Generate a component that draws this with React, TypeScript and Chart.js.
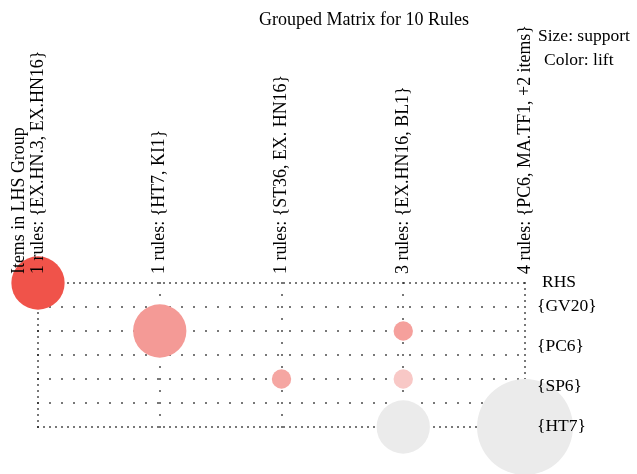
import React, { useEffect, useRef } from "react";
import { Chart, registerables } from "chart.js";

Chart.register(...registerables);

const titleText = "Grouped Matrix for 10 Rules";
const lhsTitle = "Items in LHS Group";
const rhsTitle = "RHS";
const legendSize = "Size: support";
const legendColor = "Color: lift";

const lhsGroups = [
  "1 rules: {EX.HN.3, EX.HN16}",
  "1 rules: {HT7, KI1}",
  "1 rules: {ST36, EX. HN16}",
  "3 rules: {EX.HN16, BL1}",
  "4 rules: {PC6, MA.TF1, +2 items}",
];
const rhsItems = ["{GV20}", "{PC6}", "{SP6}", "{HT7}"];

// one entry per bubble
const bubbleLhs = [0, 1, 2, 3, 3, 3, 4];
const bubbleRhs = [0, 1, 2, 1, 2, 3, 3];
const bubbleSupport = [0.071, 0.071, 0.0094, 0.0094, 0.0094, 0.071, 0.23];
const bubbleLift = [2.5, 1.9, 1.8, 1.85, 1.5, 1.0, 1.0];

const liftStops = [1.0, 1.5, 1.9, 2.5];
const liftColors = [
  [235, 235, 235],
  [248, 200, 198],
  [244, 154, 150],
  [240, 83, 74],
];

function liftColor(l: number): string {
  if (l <= liftStops[0]) return `rgb(${liftColors[0].join(",")})`;
  for (let i = 1; i < liftStops.length; i++) {
    if (l <= liftStops[i]) {
      const t = (l - liftStops[i - 1]) / (liftStops[i] - liftStops[i - 1]);
      const a = liftColors[i - 1];
      const b = liftColors[i];
      const c = a.map((v, k) => Math.round(v + (b[k] - v) * t));
      return `rgb(${c.join(",")})`;
    }
  }
  return `rgb(${liftColors[liftColors.length - 1].join(",")})`;
}

const FONT = '"Liberation Serif", "Times New Roman", serif';

const overlayPlugin = {
  id: "groupedOverlay",
  beforeDatasetsDraw(chart: any) {
    const ctx = chart.ctx;
    const xs = chart.scales.x;
    const ys = chart.scales.y;
    const nCol = lhsGroups.length - 1;
    const nRow = (rhsItems.length - 1) * 2;
    const x0 = xs.getPixelForValue(0);
    const x1 = xs.getPixelForValue(nCol);
    const y0 = ys.getPixelForValue(0);
    const y1 = ys.getPixelForValue(nRow);
    ctx.save();
    ctx.fillStyle = "#111";
    const dot = (x: number, y: number) => ctx.fillRect(Math.round(x) - 0.75, Math.round(y) - 0.75, 1.5, 1.5);
    const hline = (y: number, step: number) => {
      for (let x = x0; x <= x1 + 0.5; x += step) dot(x, y);
    };
    const vline = (x: number, step: number) => {
      for (let y = y0; y <= y1 + 0.5; y += step) dot(x, y);
    };
    const rowH = Math.abs(ys.getPixelForValue(1) - y0);
    for (let r = 0; r <= nRow; r++) {
      const y = ys.getPixelForValue(r);
      hline(y, r === 0 || r === nRow ? rowH / 4 : rowH / 2);
    }
    for (let c = 0; c <= nCol; c++) {
      const x = xs.getPixelForValue(c);
      vline(x, c === 0 || c === nCol ? rowH / 4 : rowH / 2);
    }
    ctx.restore();
  },
  afterDraw(chart: any) {
    const ctx = chart.ctx;
    const xs = chart.scales.x;
    const area = chart.chartArea;
    ctx.save();
    ctx.fillStyle = "#000";
    // title
    ctx.font = `18px ${FONT}`;
    ctx.textAlign = "center";
    ctx.textBaseline = "middle";
    ctx.fillText(titleText, 364, 20);

    // column labels (rotated)
    ctx.font = `17.9px ${FONT}`;
    const startY = area.top - 9;
    lhsGroups.forEach((lab, i) => {
      const x = xs.getPixelForValue(i);
      ctx.save();
      ctx.translate(x, startY);
      ctx.rotate(-Math.PI / 2);
      ctx.textAlign = "left";
      ctx.textBaseline = "middle";
      ctx.fillText(lab, 0, 0);
      ctx.restore();
    });
    ctx.save();
    ctx.translate(xs.getPixelForValue(0) - 19, startY);
    ctx.rotate(-Math.PI / 2);
    ctx.textAlign = "left";
    ctx.textBaseline = "middle";
    ctx.fillText(lhsTitle, 0, 0);
    ctx.restore();

    // RHS labels
    ctx.font = `17.5px ${FONT}`;
    ctx.textAlign = "left";
    ctx.textBaseline = "middle";
    const rx = area.right + 12;
    ctx.fillText(rhsTitle, rx + 5, area.top - 1);
    const n = rhsItems.length;
    const spacing = 40;
    rhsItems.forEach((lab, i) => {
      ctx.fillText(lab, rx, area.bottom - 1 - (n - 1 - i) * spacing);
    });

    // legend text
    ctx.fillText(legendSize, rx + 1, 36);
    ctx.fillText(legendColor, rx + 7, 60);
    ctx.restore();
  },
};

export default function App() {
  const ref = useRef<HTMLCanvasElement | null>(null);
  useEffect(() => {
    if (!ref.current) return;
    const points = bubbleLhs.map((c, i) => ({
      x: c,
      y: bubbleRhs[i] * 2,
      r: 100 * Math.sqrt(bubbleSupport[i]),
    }));
    const chart = new Chart(ref.current, {
      type: "bubble",
      data: {
        datasets: [
          {
            data: points,
            backgroundColor: bubbleLift.map(liftColor),
            borderWidth: 0,
            clip: false,
          } as any,
        ],
      },
      options: {
        responsive: false,
        animation: false,
        layout: { autoPadding: false, padding: { left: 38, right: 112, top: 283, bottom: 47 } },
        plugins: {
          legend: { display: false },
          tooltip: { enabled: false },
          title: { display: false },
        },
        scales: {
          x: { type: "linear", min: 0, max: lhsGroups.length - 1, display: false },
          y: { type: "linear", min: 0, max: (rhsItems.length - 1) * 2, reverse: true, display: false },
        },
      },
      plugins: [overlayPlugin],
    });
    return () => chart.destroy();
  }, []);
  return (
    <div style={{ position: "fixed", left: 0, top: 0, width: 637, height: 474, background: "#fff" }}>
      <canvas ref={ref} width={637} height={474} />
    </div>
  );
}
